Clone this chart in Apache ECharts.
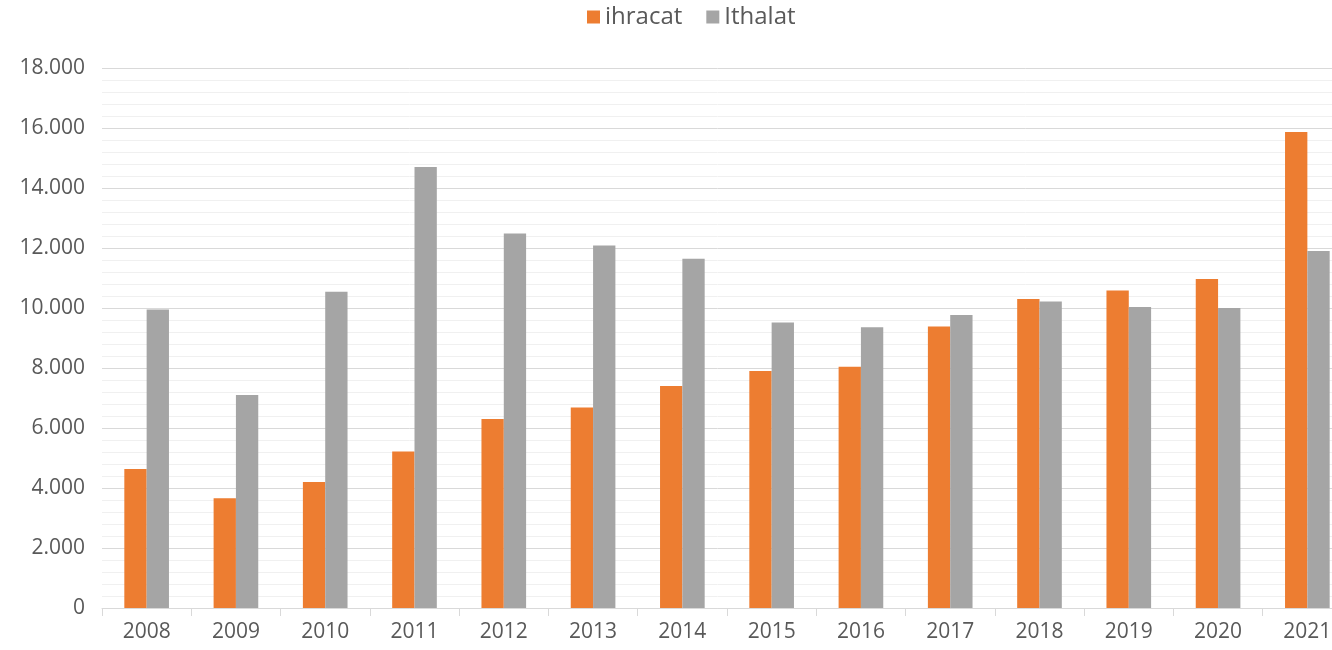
<!DOCTYPE html>
<html>
<head>
<meta charset="utf-8">
<script src="https://cdn.jsdelivr.net/npm/echarts@6/dist/echarts.min.js"></script>
<style>
  html, body { margin: 0; padding: 0; background: #fff; }
  #chart { width: 1332px; height: 650px; }
</style>
</head>
<body>
<div id="chart"></div>
<script>
var years = ['2008', '2009', '2010', '2011', '2012', '2013', '2014', '2015', '2016', '2017', '2018', '2019', '2020', '2021'];
var ihracat = [4630, 3660, 4200, 5220, 6300, 6680, 7400, 7900, 8040, 9380, 10300, 10580, 10970, 15870];
var ithalat = [9950, 7100, 10540, 14700, 12480, 12080, 11640, 9520, 9360, 9770, 10220, 10030, 10000, 11900];

var dom = document.getElementById('chart');
var myChart = echarts.init(dom, null, { renderer: 'canvas' });

function fmt(v) {
    return String(v).replace(/\B(?=(\d{3})+(?!\d))/g, '.');
}

var option = {
    animation: false,
    textStyle: { fontFamily: 'Open Sans' },
    legend: {
        top: 0,
        left: 582,
        itemWidth: 13,
        itemHeight: 13,
        itemGap: 24,
        icon: 'rect',
        textStyle: { fontSize: 24, color: '#595959', fontFamily: 'Open Sans' },
        data: ['ihracat', 'Ithalat']
    },
    // plot runs past the right edge of the canvas like in the source image
    grid: { left: 102, width: 1250, top: 68, height: 540, outerBoundsMode: 'none' },
    xAxis: {
        type: 'category',
        data: years,
        axisLine: { lineStyle: { color: '#d9d9d9', width: 1 } },
        axisTick: { show: true, length: 8, lineStyle: { color: '#d9d9d9' } },
        axisLabel: { fontSize: 21, color: '#595959', margin: 14 }
    },
    yAxis: {
        type: 'value',
        min: 0,
        max: 18000,
        interval: 2000,
        axisLine: { show: false },
        axisTick: { show: false },
        axisLabel: { fontSize: 21, color: '#595959', margin: 17, formatter: fmt },
        splitLine: { lineStyle: { color: '#d9d9d9', width: 1 } },
        minorTick: { show: false, splitNumber: 5 },
        minorSplitLine: { show: true, lineStyle: { color: '#f0f0f0', width: 1 } }
    },
    series: [
        {
            name: 'ihracat',
            type: 'bar',
            data: ihracat,
            barGap: '0%',
            barCategoryGap: '50%',
            itemStyle: { color: '#ED7D31' }
        },
        {
            name: 'Ithalat',
            type: 'bar',
            data: ithalat,
            barGap: '0%',
            barCategoryGap: '50%',
            itemStyle: { color: '#A5A5A5' }
        }
    ]
};

myChart.setOption(option);
window.addEventListener('resize', myChart.resize);
</script>
</body>
</html>
